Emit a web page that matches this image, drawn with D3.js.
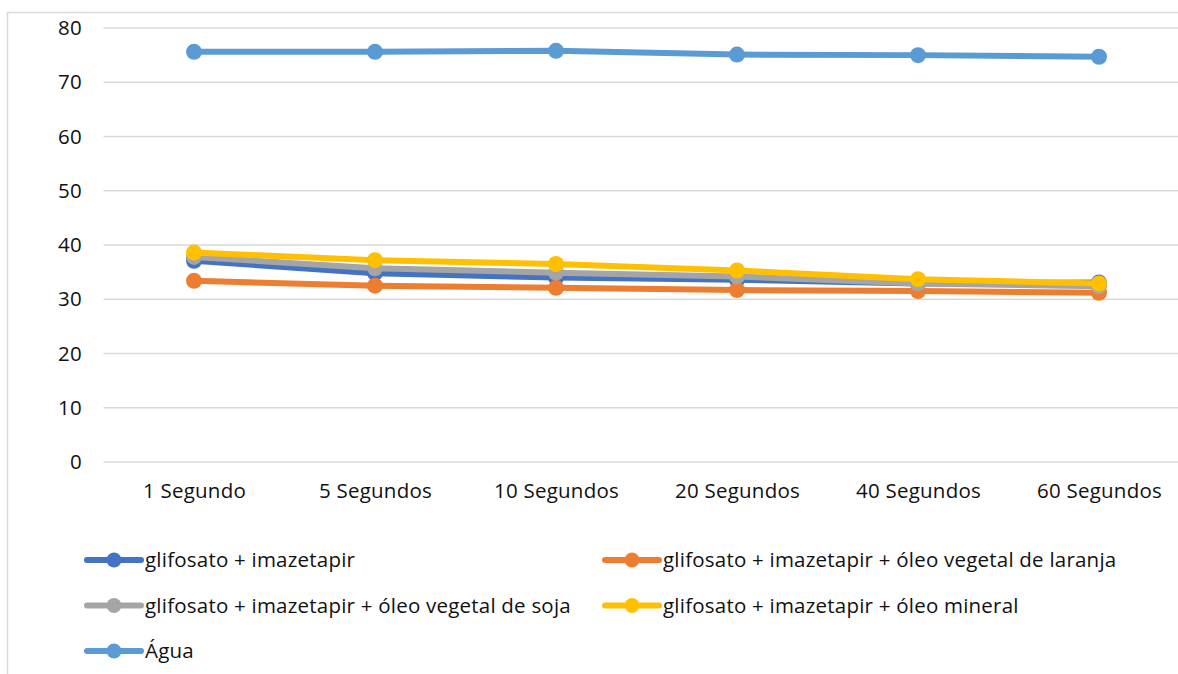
<!DOCTYPE html>
<html>
<head>
<meta charset="utf-8">
<script src="https://cdn.jsdelivr.net/npm/d3@7"></script>
<style>
  body { margin: 0; background: #fff; }
  svg { display: block; font-family: "Open Sans", Lato, sans-serif; }
  text { letter-spacing: 0.22px; }
</style>
</head>
<body>
<svg width="1178" height="674"></svg>
<script>
// data
const categories = ["1 Segundo", "5 Segundos", "10 Segundos", "20 Segundos", "40 Segundos", "60 Segundos"];
const seriesNames = [
    "glifosato + imazetapir",
    "glifosato + imazetapir + óleo vegetal de laranja",
    "glifosato + imazetapir + óleo vegetal de soja",
    "glifosato + imazetapir + óleo mineral",
    "Água"
];
const glifImaz = [37.1, 34.8, 34.0, 33.6, 32.9, 33.1];
const laranja = [33.4, 32.5, 32.1, 31.7, 31.5, 31.2];
const soja = [37.8, 35.7, 34.9, 34.2, 32.9, 32.4];
const mineral = [38.6, 37.2, 36.5, 35.3, 33.7, 32.9];
const agua = [75.6, 75.6, 75.8, 75.1, 75.0, 74.7];
const yTicks = [0, 10, 20, 30, 40, 50, 60, 70, 80];

const colors = ["#4472C4", "#ED7D31", "#A5A5A5", "#FFC000", "#5B9BD5"];
const allSeries = [glifImaz, laranja, soja, mineral, agua];
const fontSize = 20.5;

const svg = d3.select("svg");

// chart frame (cut off at right and bottom like the picture)
svg.append("rect")
    .attr("x", 7.5).attr("y", 12.5)
    .attr("width", 1200).attr("height", 700)
    .attr("fill", "#fff")
    .attr("stroke", "#d9d9d9")
    .attr("stroke-width", 1.5);

const x = d3.scalePoint()
    .domain(categories)
    .range([103.5, 1189.5])
    .padding(0.5);

const y = d3.scaleLinear()
    .domain([0, 80])
    .range([462, 28]);

// gridlines
svg.append("g")
    .selectAll("line")
    .data(yTicks)
    .join("line")
    .attr("x1", 103.5)
    .attr("x2", 1189.5)
    .attr("y1", d => y(d))
    .attr("y2", d => y(d))
    .attr("stroke", "#d9d9d9")
    .attr("stroke-width", 1.3);

// y axis labels
const yAxis = d3.axisLeft(y).tickValues(yTicks).tickSize(0).tickPadding(0);
svg.append("g")
    .attr("transform", "translate(82,0)")
    .call(yAxis)
    .call(g => g.select(".domain").remove())
    .selectAll("text")
    .attr("font-size", fontSize)
    .attr("font-family", "'Open Sans', sans-serif")
    .attr("fill", "#111");

// x axis labels
const xAxis = d3.axisBottom(x).tickSize(0).tickPadding(0);
svg.append("g")
    .attr("transform", "translate(0,483)")
    .call(xAxis)
    .call(g => g.select(".domain").remove())
    .selectAll("text")
    .attr("font-size", fontSize)
    .attr("font-family", "'Open Sans', sans-serif")
    .attr("fill", "#111");

// lines
const line = d3.line()
    .x((d, i) => x(categories[i]))
    .y(d => y(d));

allSeries.forEach((vals, si) => {
    const g = svg.append("g");
    g.append("path")
        .datum(vals)
        .attr("d", line)
        .attr("fill", "none")
        .attr("stroke", colors[si])
        .attr("stroke-width", 6)
        .attr("stroke-linejoin", "round")
        .attr("stroke-linecap", "round");
    g.selectAll("circle")
        .data(vals)
        .join("circle")
        .attr("cx", (d, i) => x(categories[i]))
        .attr("cy", d => y(d))
        .attr("r", 8)
        .attr("fill", colors[si]);
});

// legend
const legendPos = [
    [87, 560], [605, 560],
    [87, 605.5], [605, 605.5],
    [87, 651]
];
const legend = svg.append("g");
seriesNames.forEach((name, i) => {
    const [lx, ly] = legendPos[i];
    const item = legend.append("g").attr("transform", `translate(${lx},${ly})`);
    item.append("line")
        .attr("x1", 0).attr("x2", 54)
        .attr("y1", 0).attr("y2", 0)
        .attr("stroke", colors[i])
        .attr("stroke-width", 6)
        .attr("stroke-linecap", "round");
    item.append("circle")
        .attr("cx", 27).attr("cy", 0).attr("r", 7.5)
        .attr("fill", colors[i]);
    item.append("text")
        .attr("x", 58)
        .attr("y", 0)
        .attr("dy", "0.35em")
        .attr("font-size", fontSize)
        .attr("fill", "#111")
        .text(name);
});
</script>
</body>
</html>
